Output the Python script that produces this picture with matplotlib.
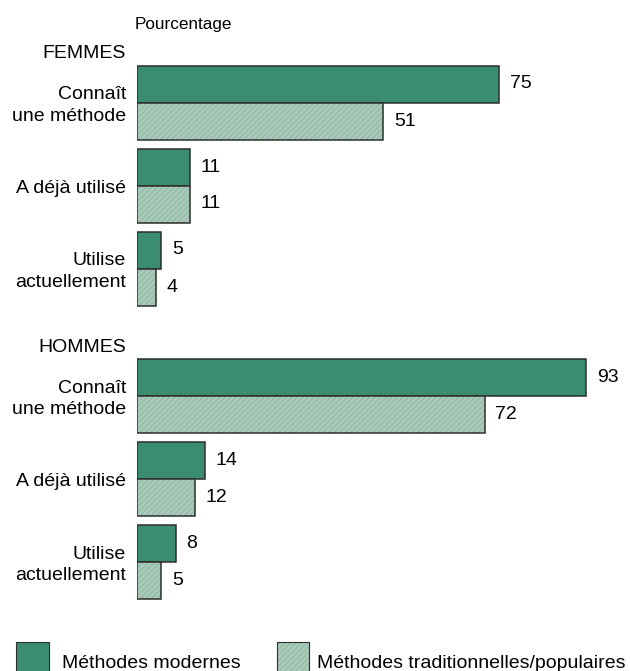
import matplotlib
matplotlib.use("Agg")
import matplotlib.pyplot as plt
from matplotlib.patches import Rectangle

plt.rcParams['font.family'] = ['Liberation Sans', 'DejaVu Sans']
plt.rcParams['hatch.linewidth'] = 0.8

sexes = ["FEMMES", "HOMMES"]
categories = ["Connaît\nune méthode", "A déjà utilisé", "Utilise\nactuellement"]
modern_women = [75, 11, 5]
trad_women = [51, 11, 4]
modern_men = [93, 14, 8]
trad_men = [72, 12, 5]
legend_labels = ["Méthodes modernes", "Méthodes traditionnelles/populaires"]
unit_label = "Pourcentage"

DARK = "#3a8d6e"
LIGHT = "#a9cab9"
HATCH = "#93b9a7"
EDGE = "#2e2e2e"

W, H = 630, 671
fig = plt.figure(figsize=(W / 100, H / 100), dpi=100)

# main axes: x in percent, y in pixel rows
x0 = 137
scale = 4.83  # px per percent
ax = fig.add_axes([x0 / W, 0, 100 * scale / W, 1])
ax.set_xlim(0, 100)
ax.set_ylim(H, 0)
ax.axis("off")

ov = fig.add_axes([0, 0, 1, 1], zorder=-1)
ov.set_xlim(0, W)
ov.set_ylim(H, 0)
ov.axis("off")

bar_h = 37
step = 83
group_tops = [102.5, 396]
header_y = [53, 347]

fs = 14
for g, (sex, mod, trad) in enumerate(zip(sexes, [modern_women, modern_men], [trad_women, trad_men])):
    ov.text(126, header_y[g], sex, ha="right", va="center", fontsize=fs)
    for i, cat in enumerate(categories):
        yc = group_tops[g] + i * step
        ax.barh(yc - bar_h / 2, mod[i], height=bar_h, left=0, color=DARK,
                edgecolor=EDGE, linewidth=1.1)
        ax.barh(yc + bar_h / 2, trad[i], height=bar_h, left=0, color=LIGHT,
                edgecolor=HATCH, linewidth=0, hatch="//////")
        ax.barh(yc + bar_h / 2, trad[i], height=bar_h, left=0, fill=False,
                edgecolor=EDGE, linewidth=1.1)
        ax.text(mod[i] + 2.2, yc - bar_h / 2, str(mod[i]), ha="left", va="center", fontsize=fs)
        ax.text(trad[i] + 2.2, yc + bar_h / 2, str(trad[i]), ha="left", va="center", fontsize=fs)
        ov.text(126, yc + 3, cat, ha="right", va="center", fontsize=fs, linespacing=1.35)

ov.text(135, 25, unit_label, ha="left", va="center", fontsize=12.3)

# legend
ov.add_patch(Rectangle((16, 642), 33, 40, facecolor=DARK, edgecolor=EDGE, linewidth=0.8, clip_on=False))
ov.text(62, 668, legend_labels[0], ha="left", va="baseline", fontsize=fs)
ov.add_patch(Rectangle((277, 642), 32, 40, facecolor=LIGHT, edgecolor=HATCH, linewidth=0, hatch="//////", clip_on=False))
ov.add_patch(Rectangle((277, 642), 32, 40, fill=False, edgecolor=EDGE, linewidth=0.8, clip_on=False))
ov.text(317, 668, legend_labels[1], ha="left", va="baseline", fontsize=fs)

fig.savefig("out.png", dpi=100)
